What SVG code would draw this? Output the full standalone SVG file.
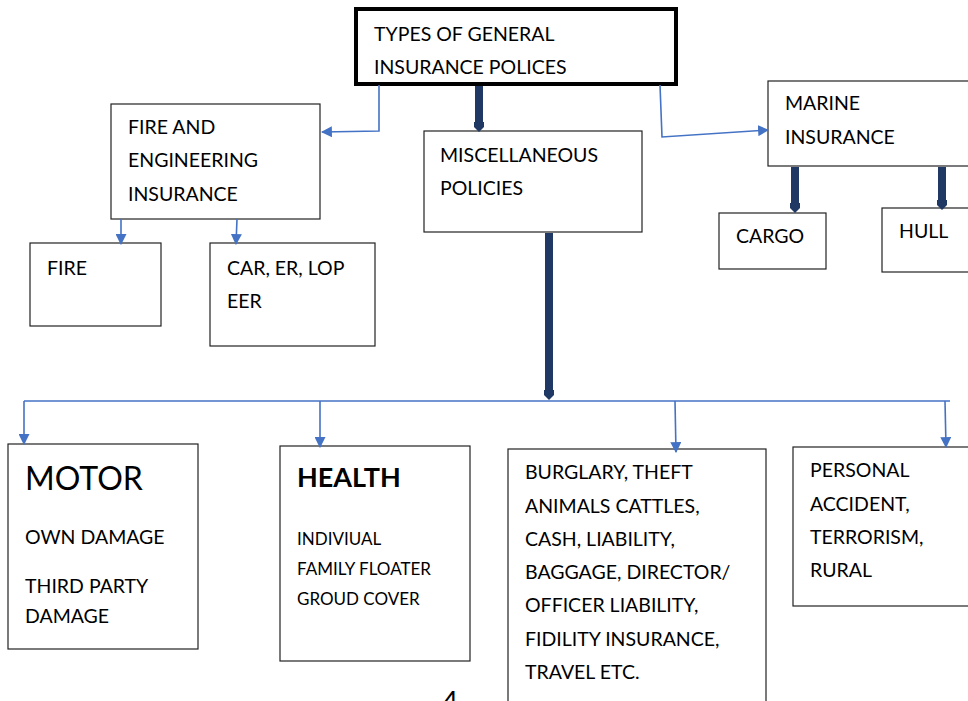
<svg xmlns="http://www.w3.org/2000/svg" width="968" height="701" viewBox="0 0 968 701">
<defs>
<style>
.box{fill:#fff;stroke:#222;stroke-width:1.2}
.t{font-family:Lato,"Open Sans",sans-serif;font-size:19.5px;fill:#000}
.blue{fill:none;stroke:#4472C4;stroke-width:1.6}
.thick{fill:none;stroke:#1F3864;stroke-width:8}
</style>
<marker id="ab" viewBox="0 0 10 10" refX="9" refY="5" markerWidth="11" markerHeight="11" markerUnits="userSpaceOnUse" orient="auto"><path d="M0,0 L10,5 L0,10 Z" fill="#4472C4"/></marker>
<marker id="dk" viewBox="0 0 10 10" refX="5" refY="5" markerWidth="10" markerHeight="10" markerUnits="userSpaceOnUse" orient="auto"><path d="M0,0 L5,0 L10,5 L5,10 L0,10 Z" fill="#1F3864"/></marker>
</defs>
<rect width="968" height="701" fill="#fff"/>
<g id="top">
<rect x="356" y="9" width="320" height="75" fill="#fff" stroke="#000" stroke-width="4"/>
<text class="t" x="374" y="41">TYPES OF GENERAL</text>
<text class="t" x="374" y="74">INSURANCE POLICES</text>
</g>
<g id="fire-eng">
<rect class="box" x="111" y="104" width="209" height="115"/>
<text class="t" x="128" y="134">FIRE AND</text>
<text class="t" x="128" y="167">ENGINEERING</text>
<text class="t" x="128" y="201">INSURANCE</text>
</g>
<g id="misc">
<rect class="box" x="424" y="131" width="218" height="101"/>
<text class="t" x="440" y="162">MISCELLANEOUS</text>
<text class="t" x="440" y="195">POLICIES</text>
</g>
<g id="marine">
<rect class="box" x="768" y="81" width="210" height="85"/>
<text class="t" x="785" y="110">MARINE</text>
<text class="t" x="785" y="144">INSURANCE</text>
</g>
<g id="cargo">
<rect class="box" x="719" y="213" width="107" height="56"/>
<text class="t" x="736" y="243">CARGO</text>
</g>
<g id="hull">
<rect class="box" x="882" y="208" width="96" height="64"/>
<text class="t" x="899" y="238">HULL</text>
</g>
<g id="fire">
<rect class="box" x="30" y="243" width="131" height="83"/>
<text class="t" x="47" y="275">FIRE</text>
</g>
<g id="car">
<rect class="box" x="210" y="243" width="165" height="103"/>
<text class="t" x="227" y="275">CAR, ER, LOP</text>
<text class="t" x="227" y="308">EER</text>
</g>
<g id="motor">
<rect class="box" x="8" y="444" width="190" height="205"/>
<text class="t" x="25" y="490" style="font-size:32px">MOTOR</text>
<text class="t" x="25" y="544">OWN DAMAGE</text>
<text class="t" x="25" y="593">THIRD PARTY</text>
<text class="t" x="25" y="623">DAMAGE</text>
</g>
<g id="health">
<rect class="box" x="280" y="446" width="190" height="215"/>
<text class="t" x="297" y="487" style="font-size:27px;font-weight:bold">HEALTH</text>
<text class="t" x="297" y="545" style="font-size:17px">INDIVIUAL</text>
<text class="t" x="297" y="575" style="font-size:17px">FAMILY FLOATER</text>
<text class="t" x="297" y="605" style="font-size:17px">GROUD COVER</text>
</g>
<g id="burglary">
<rect class="box" x="508" y="449" width="258" height="270"/>
<text class="t" x="525" y="479">BURGLARY, THEFT</text>
<text class="t" x="525" y="513">ANIMALS CATTLES,</text>
<text class="t" x="525" y="546">CASH, LIABILITY,</text>
<text class="t" x="525" y="579">BAGGAGE, DIRECTOR/</text>
<text class="t" x="525" y="612">OFFICER LIABILITY,</text>
<text class="t" x="525" y="646">FIDILITY INSURANCE,</text>
<text class="t" x="525" y="679">TRAVEL ETC.</text>
</g>
<g id="personal">
<rect class="box" x="793" y="447" width="185" height="159"/>
<text class="t" x="810" y="477">PERSONAL</text>
<text class="t" x="810" y="511">ACCIDENT,</text>
<text class="t" x="810" y="544">TERRORISM,</text>
<text class="t" x="810" y="577">RURAL</text>
</g>
<g id="connectors">
<polyline class="blue" points="379,85 379,131 322,132" marker-end="url(#ab)"/>
<polyline class="blue" points="660,85 662,137 768,130" marker-end="url(#ab)"/>
<line class="thick" x1="479" y1="86" x2="479" y2="127" marker-end="url(#dk)"/>
<line class="thick" x1="795" y1="167" x2="795" y2="208" marker-end="url(#dk)"/>
<line class="thick" x1="942" y1="167" x2="942" y2="205" marker-end="url(#dk)"/>
<line class="thick" x1="549" y1="233" x2="549" y2="395" marker-end="url(#dk)"/>
<polyline class="blue" points="121,219 121,244" marker-end="url(#ab)"/>
<polyline class="blue" points="237,219 236,244" marker-end="url(#ab)"/>
<line class="blue" x1="24" y1="401" x2="950" y2="401"/>
<polyline class="blue" points="24,401 24,444" marker-end="url(#ab)"/>
<polyline class="blue" points="320,401 320,447" marker-end="url(#ab)"/>
<polyline class="blue" points="675,401 676,452" marker-end="url(#ab)"/>
<polyline class="blue" points="945,401 946,447" marker-end="url(#ab)"/>
</g>
<text class="t" x="442" y="712" style="font-size:28px">4</text>
</svg>
